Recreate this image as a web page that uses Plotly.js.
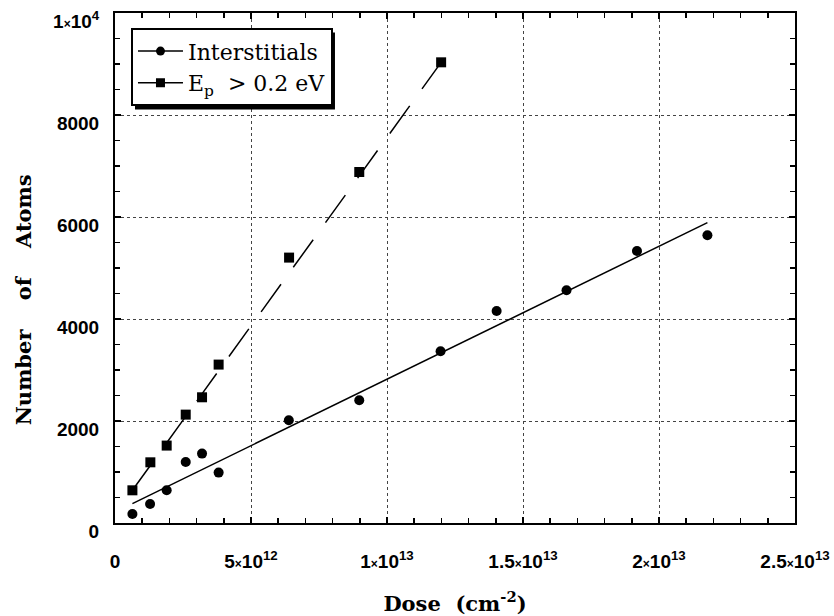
<!DOCTYPE html>
<html>
<head>
<meta charset="utf-8">
<script src="https://cdn.plot.ly/plotly-3.0.1.min.js"></script>
<style>html,body{margin:0;padding:0;background:#fff;}#chart{width:834px;height:616px;}</style>
</head>
<body>
<div id="chart"></div>
<script>
// Dose values (cm^-2) and atom counts
var interDose = [0.64e12, 1.29e12, 1.90e12, 2.60e12, 3.20e12, 3.81e12, 6.39e12, 8.98e12, 11.97e12, 14.03e12, 16.6e12, 19.19e12, 21.78e12];
var interAtoms = [176, 373, 641, 1196, 1361, 988, 2014, 2406, 3367, 4157, 4563, 5333, 5641];
var epDose = [0.64e12, 1.30e12, 1.90e12, 2.60e12, 3.20e12, 3.81e12, 6.40e12, 8.98e12, 11.99e12];
var epAtoms = [641, 1190, 1518, 2125, 2465, 3106, 5204, 6882, 9033];
// linear fit lines as drawn in the figure (end points)
var interFitDose = [0.64e12, 21.78e12];
var interFitAtoms = [380, 5890];
var epFitDose = [0.64e12, 11.99e12];
var epFitAtoms = [641, 9033];
// tick labels
var xTickVals = [0, 5e12, 1e13, 1.5e13, 2e13, 2.5e13];
var xTickText = ['0', '5<span style="font-size:12px">×</span>10<sup>12</sup>', '1<span style="font-size:12px">×</span>10<sup>13</sup>', '1.5<span style="font-size:12px">×</span>10<sup>13</sup>', '2<span style="font-size:12px">×</span>10<sup>13</sup>', '2.5<span style="font-size:12px">×</span>10<sup>13</sup>'];
var yTickVals = [0, 2000, 4000, 6000, 8000, 10000];
var yTickText = ['0', '2000', '4000', '6000', '8000', '1<span style="font-size:12px">×</span>10<sup>4</sup>'];

var traces = [
  {x: interFitDose, y: interFitAtoms, mode: 'lines', line: {color: '#000', width: 1.5}, showlegend: false, hoverinfo: 'skip'},
  {x: epFitDose, y: epFitAtoms, mode: 'lines', line: {color: '#000', width: 1.5, dash: '34px,21px'}, showlegend: false, hoverinfo: 'skip'},
  {x: interDose, y: interAtoms, mode: 'markers', marker: {symbol: 'circle', size: 10, color: '#000'}, showlegend: false},
  {x: epDose, y: epAtoms, mode: 'markers', marker: {symbol: 'square', size: 10, color: '#000'}, showlegend: false},
  {x: [null], y: [null], mode: 'lines+markers', name: 'Interstitials', line: {color: '#000', width: 1.5}, marker: {symbol: 'circle', size: 9, color: '#000'}},
  {x: [null], y: [null], mode: 'lines+markers', name: 'E<sub>p</sub>  &gt; 0.2 eV', line: {color: '#000', width: 1.5}, marker: {symbol: 'square', size: 9, color: '#000'}}
];

var tickFont = {family: 'Liberation Sans, Arial, sans-serif', size: 19, color: '#000', weight: 700};
var titleFont = {family: 'DejaVu Serif, serif', size: 21, color: '#000', weight: 700};
var nb = '\u00A0';

var layout = {
  width: 834, height: 616,
  margin: {l: 115, r: 39, t: 13, b: 93},
  paper_bgcolor: '#fff', plot_bgcolor: '#fff',
  showlegend: true,
  xaxis: {
    range: [0, 2.5e13], tickmode: 'array', tickvals: xTickVals, ticktext: xTickText,
    tickfont: tickFont, ticks: 'inside', ticklen: 6, tickwidth: 1.5, tickcolor: '#000',
    showline: true, linecolor: '#000', linewidth: 2, mirror: 'allticks',
    showgrid: true, gridcolor: '#444', gridwidth: 1, griddash: 'dot', zeroline: false,
    ticklabelstandoff: 20,
    minor: {dtick: 1e12, ticks: 'inside', ticklen: 5, tickwidth: 1.5, tickcolor: '#000', showgrid: false},
    title: {text: 'Dose' + nb + nb + '(cm<sup>-2</sup>)', font: titleFont, standoff: 26}
  },
  yaxis: {
    range: [0, 10000], tickmode: 'array', tickvals: yTickVals, ticktext: yTickText,
    tickfont: tickFont, ticks: 'inside', ticklen: 6, tickwidth: 1.5, tickcolor: '#000',
    showline: true, linecolor: '#000', linewidth: 2, mirror: 'allticks',
    showgrid: true, gridcolor: '#444', gridwidth: 1, griddash: 'dot', zeroline: false,
    ticklabelstandoff: 10, ticklabelshift: 8,
    minor: {dtick: 500, ticks: 'inside', ticklen: 5, tickwidth: 1.5, tickcolor: '#000', showgrid: false},
    title: {text: ''}
  },
  annotations: [{
    text: 'Number' + nb.repeat(4) + 'of' + nb.repeat(4) + 'Atoms', textangle: -90,
    xref: 'paper', yref: 'paper', x: -0.135, y: 0.437, xanchor: 'center', yanchor: 'middle',
    showarrow: false, font: titleFont
  }],
  shapes: [{
    type: 'rect', xref: 'paper', yref: 'paper', x0: 0.0294, x1: 0.3235, y0: 0.811, y1: 0.962,
    fillcolor: '#000', line: {width: 0}, layer: 'above'
  }],
  legend: {
    x: 0.0235, y: 0.97, xanchor: 'left', yanchor: 'top',
    bgcolor: '#fff', bordercolor: '#000', borderwidth: 2,
    font: {family: 'DejaVu Serif, serif', size: 22, color: '#000'},
    itemwidth: 45, tracegroupgap: 0
  }
};

Plotly.newPlot('chart', traces, layout, {displayModeBar: false, staticPlot: true});
</script>
</body>
</html>
